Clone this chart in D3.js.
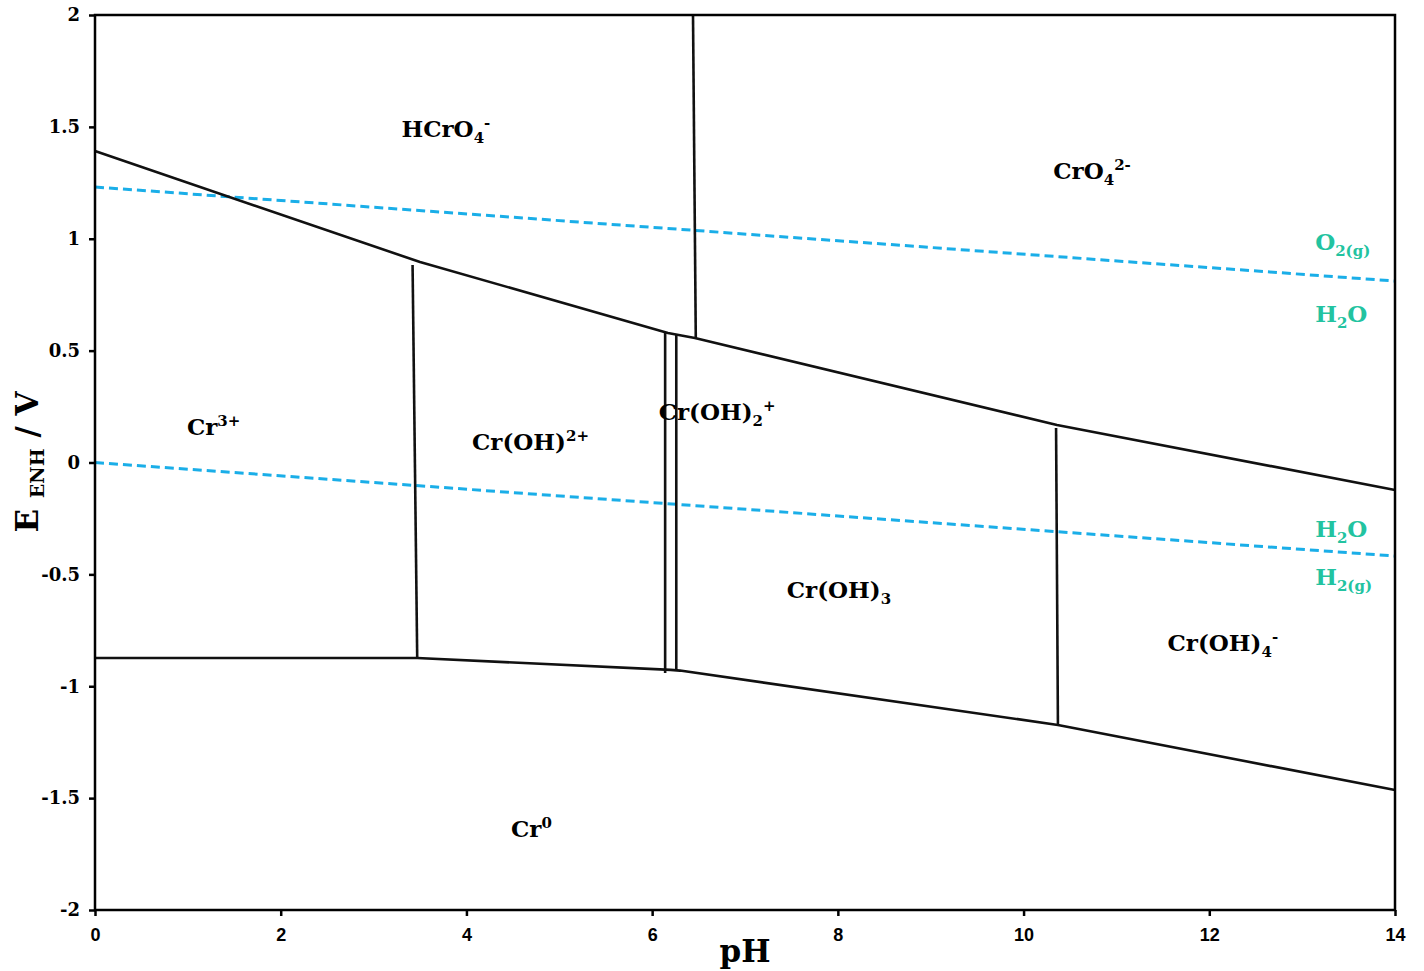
<!DOCTYPE html>
<html><head><meta charset="utf-8">
<script src="https://cdn.jsdelivr.net/npm/d3@7"></script>
<style>body{margin:0;background:#fff}svg{display:block}</style>
</head><body>
<svg id="chart" width="1424" height="971"></svg>
<script>
// ---- data ----
const xTicks = [0, 2, 4, 6, 8, 10, 12, 14];
const yTicks = [2, 1.5, 1, 0.5, 0, -0.5, -1, -1.5, -2];
const yTickLabels = ["2", "1.5", "1", "0.5", "0", "-0.5", "-1", "-1.5", "-2"];

// boundary lines [pH, E]
const upperBoundary = [[0, 1.392], [3.5, 0.896], [6.17, 0.579], [6.46, 0.556], [10.36, 0.168], [14, -0.123]];
const lowerBoundary = [[0, -0.874], [3.47, -0.874], [6.2, -0.927], [6.3, -0.93], [10.37, -1.173], [14, -1.464]];
const hcro4Cro4 = [[6.44, 2], [6.47, 0.556]];
const cr3CrOH = [[3.42, 0.883], [3.47, -0.874]];
const crOH2a = [[6.14, 0.583], [6.14, -0.941]];
const crOH2b = [[6.26, 0.57], [6.26, -0.927]];
const crOH3CrOH4 = [[10.35, 0.154], [10.37, -1.173]];
const verticals = [hcro4Cro4, cr3CrOH, crOH2a, crOH2b, crOH3CrOH4];

// water stability lines
const o2Line = [[0, 1.231], [14, 0.811]];
const h2Line = [[0, 0.0], [14, -0.418]];

// species labels: [pH, E, main, sub, sup]
const speciesLabels = [
  [3.30, 1.455, "HCrO", "4", "-"],
  [10.32, 1.267, "CrO", "4", "2-"],
  [0.99, 0.123, "Cr", "", "3+"],
  [4.06, 0.056, "Cr(OH)", "", "2+"],
  [6.07, 0.19, "Cr(OH)", "2", "+"],
  [7.45, -0.604, "Cr(OH)", "3", ""],
  [11.55, -0.843, "Cr(OH)", "4", "-"],
  [4.48, -1.675, "Cr", "", "0"]
];
const waterLabels = [
  [13.14, 0.95, "O", "2(g)"],
  [13.14, 0.628, "H", "2", "O"],
  [13.14, -0.333, "H", "2", "O"],
  [13.14, -0.547, "H", "2(g)"]
];

// ---- chart ----
const svg = d3.select("#chart");
const L = 95, R = 1395, T = 15, B = 910;
const x = d3.scaleLinear().domain([0, 14]).range([L, R]);
const y = d3.scaleLinear().domain([-2, 2]).range([B, T]);
const serif = "'DejaVu Serif', serif";
const lineGen = d3.line().x(d => x(d[0])).y(d => y(d[1]));

// water lines
[o2Line, h2Line].forEach(l => {
  svg.append("path").attr("d", lineGen(l)).attr("fill", "none")
    .attr("stroke", "#1aaee8").attr("stroke-width", 3).attr("stroke-dasharray", "9,5");
});

// boundaries
[upperBoundary, lowerBoundary, ...verticals].forEach(l => {
  svg.append("path").attr("d", lineGen(l)).attr("fill", "none")
    .attr("stroke", "#111").attr("stroke-width", 2.6).attr("stroke-linejoin", "round");
});

// frame
svg.append("rect").attr("x", L).attr("y", T).attr("width", R - L).attr("height", B - T)
  .attr("fill", "none").attr("stroke", "#000").attr("stroke-width", 2.5);

// axes
const xAxis = svg.append("g").attr("transform", `translate(0,${B})`)
  .call(d3.axisBottom(x).tickValues(xTicks).tickSize(6).tickFormat(d3.format("d")));
xAxis.select(".domain").remove();
xAxis.selectAll("line").attr("stroke", "#000").attr("stroke-width", 2.5);
xAxis.selectAll("text").attr("font-family", "'Liberation Sans', Arial, sans-serif")
  .attr("font-weight", "bold").attr("font-size", 18).attr("fill", "#000").attr("dy", "1.2em");

const yAxis = svg.append("g").attr("transform", `translate(${L},0)`)
  .call(d3.axisLeft(y).tickValues(yTicks).tickSize(6).tickFormat((d, i) => yTickLabels[i]));
yAxis.select(".domain").remove();
yAxis.selectAll("line").attr("stroke", "#000").attr("stroke-width", 2.5);
yAxis.selectAll("text").attr("font-family", serif).attr("font-weight", "bold")
  .attr("font-size", 18).attr("fill", "#000").attr("x", -15);

// axis titles
svg.append("text").attr("x", 745).attr("y", 962).attr("text-anchor", "middle")
  .attr("font-family", serif).attr("font-weight", "bold").attr("font-size", 31).text("pH");
const yt = svg.append("text").attr("transform", "translate(38,462) rotate(-90)")
  .attr("text-anchor", "middle").attr("font-family", serif).attr("font-weight", "bold").attr("font-size", 31);
yt.append("tspan").text("E ");
yt.append("tspan").attr("font-size", 19).attr("dy", 6).text("ENH");
yt.append("tspan").attr("dy", -6).text(" / V");

// species labels
speciesLabels.forEach(([px, pe, main, sub, sup]) => {
  const t = svg.append("text").attr("x", x(px)).attr("y", y(pe))
    .attr("font-family", serif).attr("font-weight", "bold").attr("font-size", 23).attr("fill", "#000");
  t.append("tspan").text(main);
  let dy = 0;
  if (sub) { t.append("tspan").attr("font-size", 15).attr("dy", 6).text(sub); dy = 6; }
  if (sup) { t.append("tspan").attr("font-size", 15).attr("dy", -dy - 9).text(sup); }
});

waterLabels.forEach(([px, pe, main, sub, rest]) => {
  const t = svg.append("text").attr("x", x(px)).attr("y", y(pe))
    .attr("font-family", serif).attr("font-weight", "bold").attr("font-size", 23).attr("fill", "#22c3a0");
  t.append("tspan").text(main);
  t.append("tspan").attr("font-size", 15).attr("dy", 6).text(sub);
  if (rest) t.append("tspan").attr("dy", -6).text(rest);
});
</script>
</body></html>
